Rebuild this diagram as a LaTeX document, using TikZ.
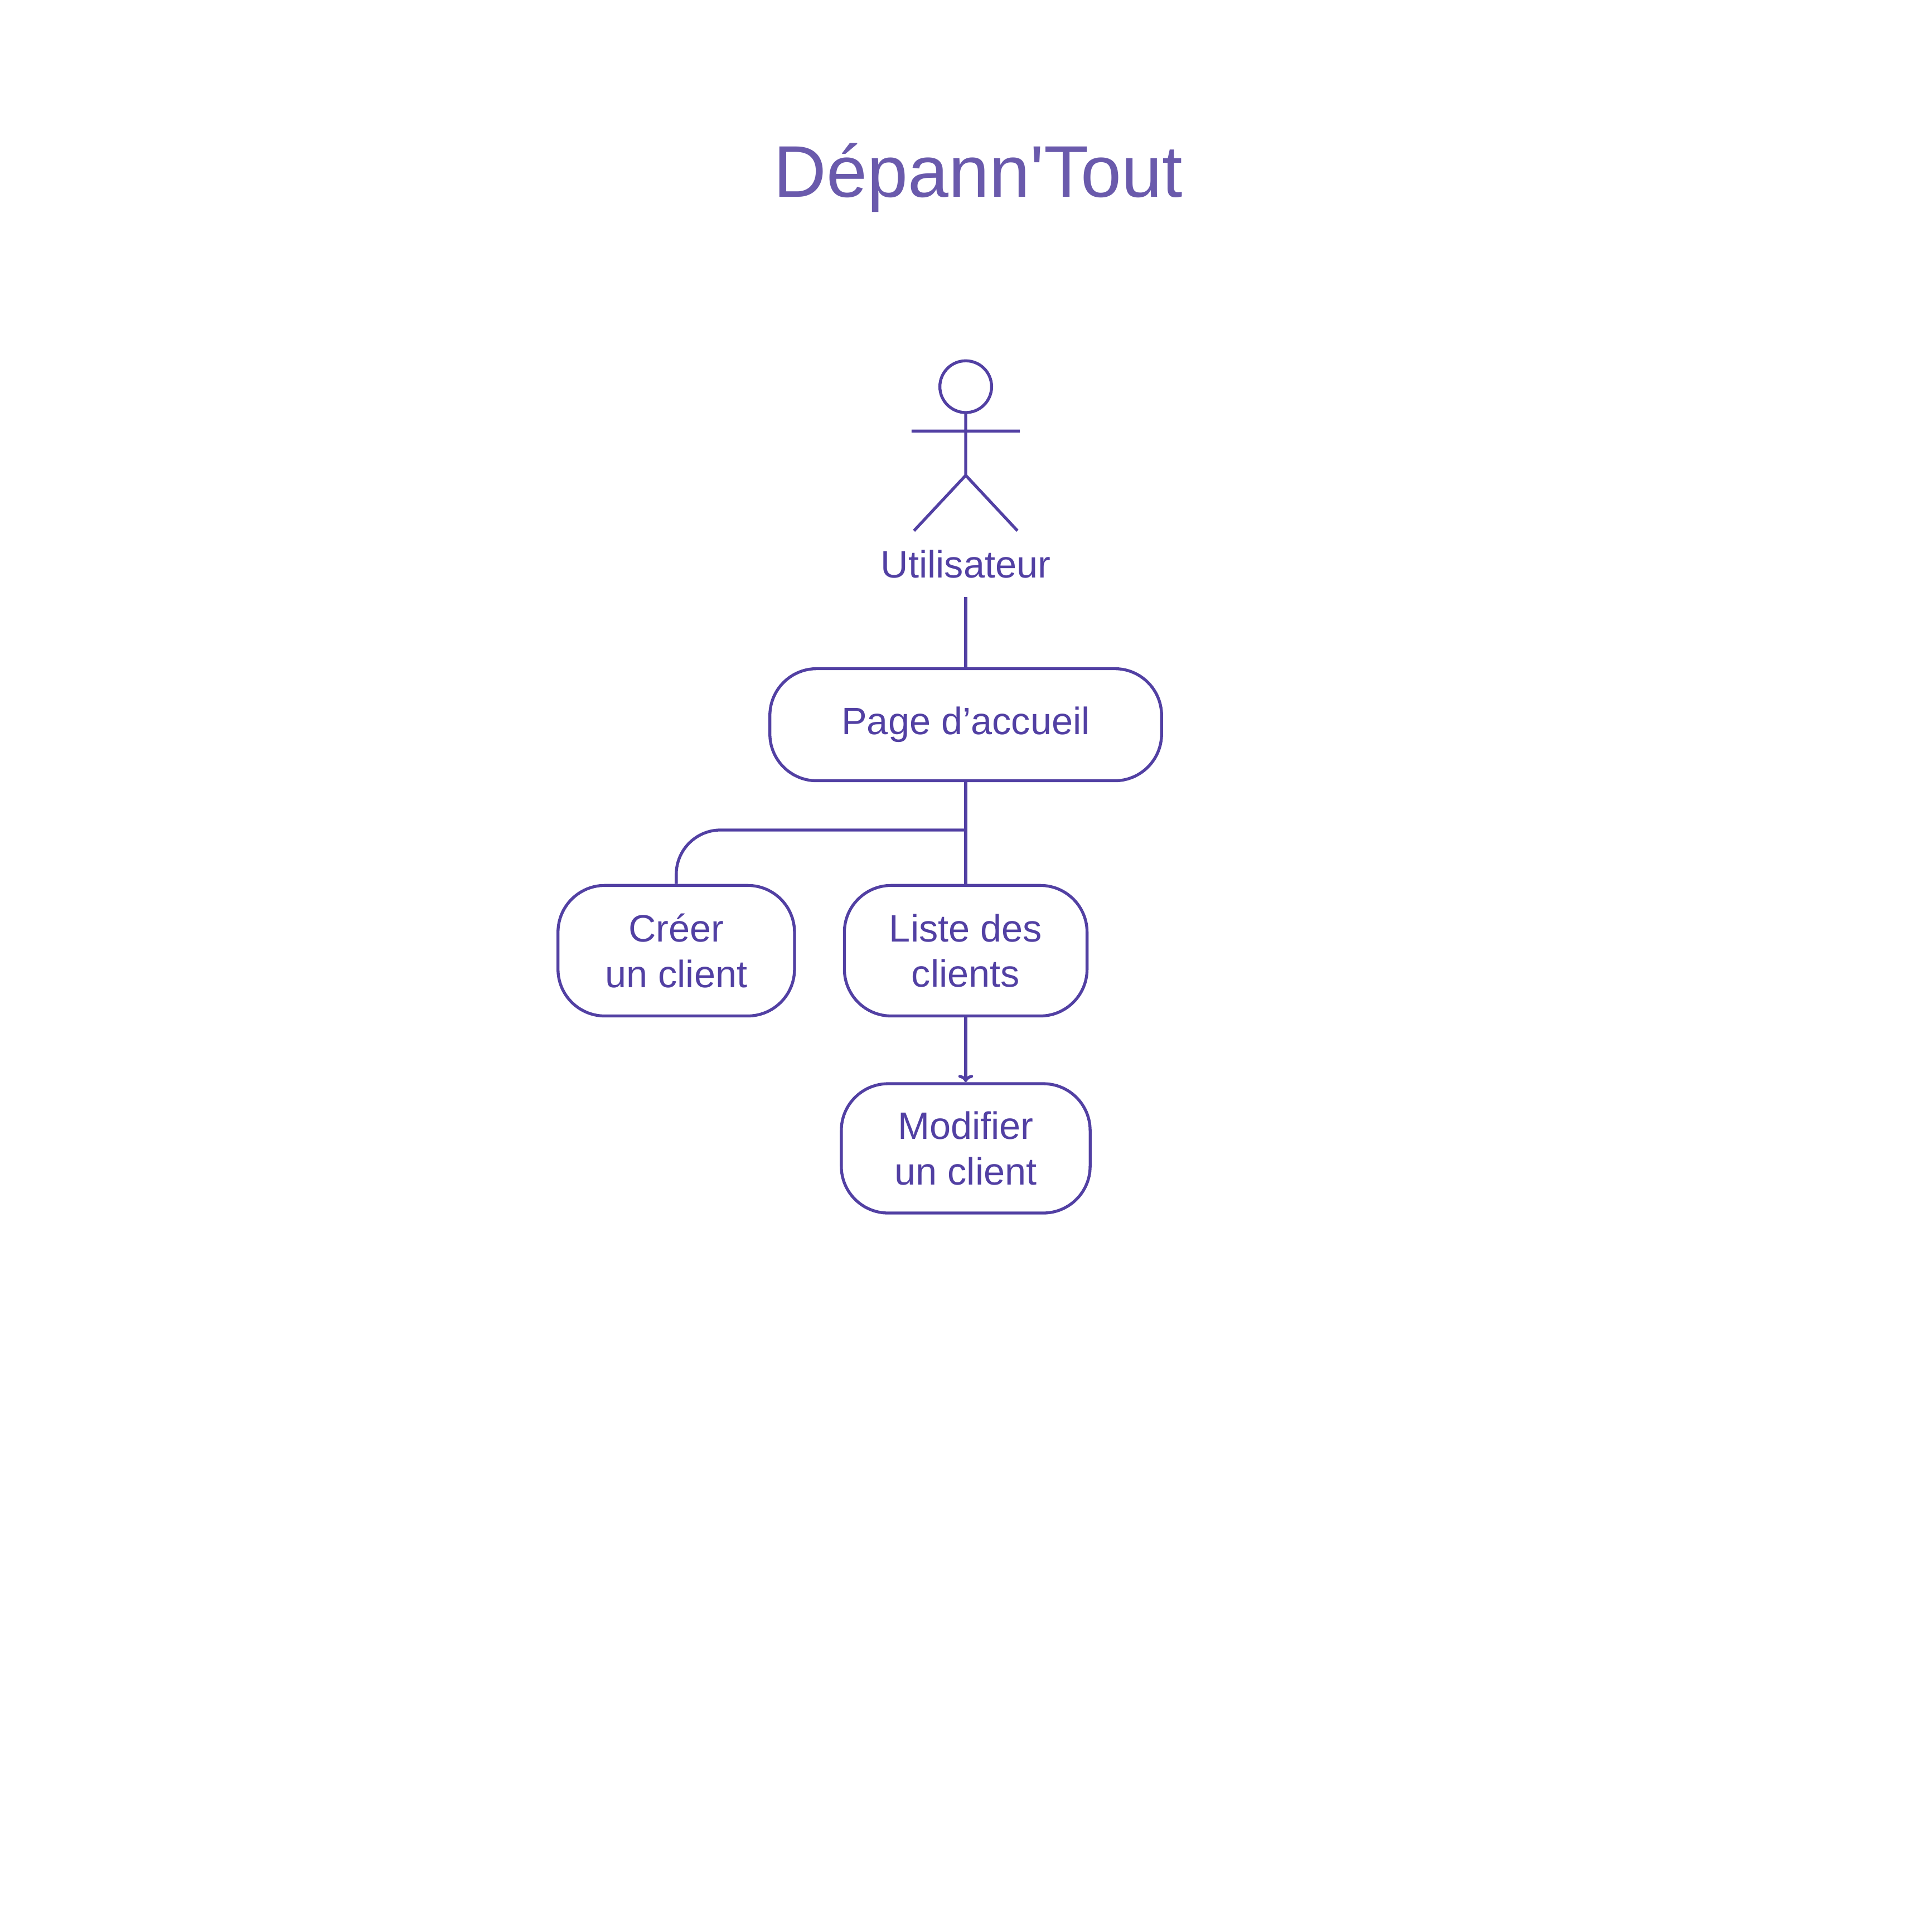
\documentclass[tikz,border=0pt]{standalone}
\usepackage{fontspec}
\setmainfont{Liberation Sans}
\usetikzlibrary{arrows.meta,positioning}
\definecolor{titlecol}{RGB}{106,90,172}
\definecolor{linecol}{RGB}{82,64,163}
\tikzset{
  etape/.style={draw=linecol, line width=1.2pt, rounded corners=19pt, text=linecol, align=center, font=\fontsize{15.5}{18.5}\selectfont, inner sep=0pt},
  lien/.style={draw=linecol, line width=1.2pt},
}
\begin{document}
\begin{tikzpicture}[x=50pt, y=50pt, line join=round, >={To[length=3pt,width=6pt]}]
	\useasboundingbox (0,0) rectangle (15.68,15.68);
	% titre
	\node[text=titlecol, font=\fontsize{29.7}{34}\selectfont, anchor=base] (titre) at (7.94,14.08) {Dépann\textquotesingle Tout};
	% acteur
	\draw[lien] (7.84,12.54) circle (0.21);
	\draw[lien] (7.84,12.33)--(7.84,11.82) (7.40,12.18)--(8.28,12.18)
		(7.42,11.37)--(7.84,11.82)--(8.26,11.37);
	\node[text=linecol, font=\fontsize{15.5}{18.5}\selectfont] (user) at (7.84,11.10) {Utilisateur};
	\coordinate (userbas) at (7.84,10.83);
	% pages
	\node[etape, minimum width=3.18*50pt, minimum height=0.91*50pt] (accueil) at (7.84,9.795) {Page d’accueil};
	\node[etape, minimum width=1.92*50pt, minimum height=1.06*50pt] (creer) at (5.49,7.96) {Créer\\un client};
	\node[etape, minimum width=1.97*50pt, minimum height=1.06*50pt] (liste) at (7.84,7.96) {Liste des\\clients};
	\node[etape, minimum width=2.02*50pt, minimum height=1.05*50pt] (modif) at (7.84,6.355) {Modifier\\un client};
	\coordinate (fourche) at (7.84,8.94);
	% liens
	\draw[lien] (userbas)--(accueil.north);
	\draw[lien] (accueil.south)--(liste.north);
	\draw[lien, rounded corners=18pt] (fourche)-|(creer.north);
	\draw[lien,->] (liste.south)--(modif.north);
\end{tikzpicture}
\end{document}
